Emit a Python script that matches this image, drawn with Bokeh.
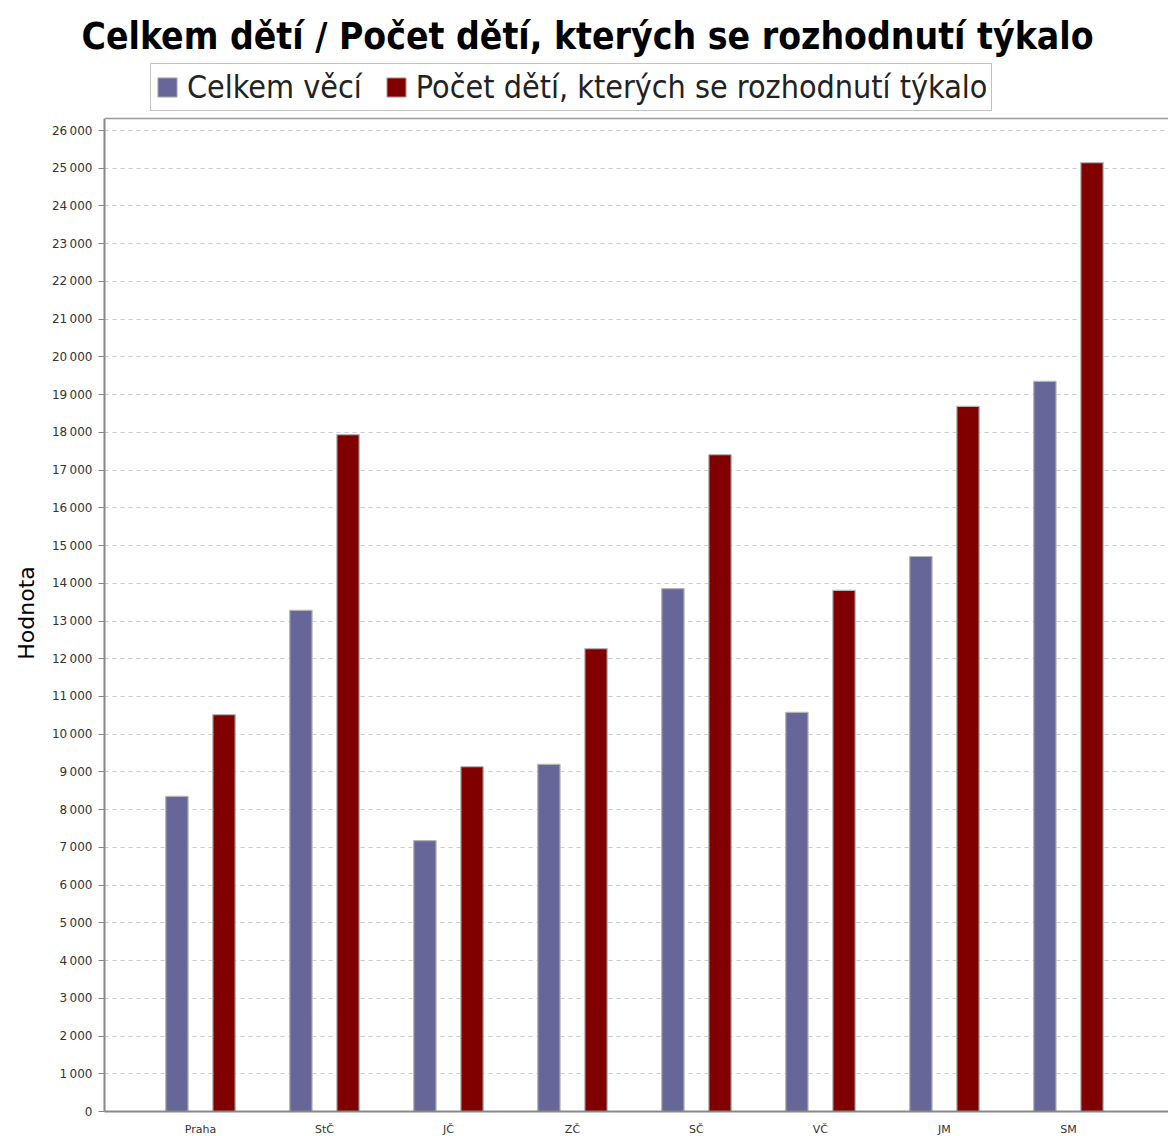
from bokeh.plotting import figure
from bokeh.layouts import column
from bokeh.models import (ColumnDataSource, Range1d, FixedTicker, Legend, LegendItem, Span)
from bokeh.transform import dodge
from bokeh.embed import file_html
from bokeh.resources import INLINE

categories = ["Praha", "StČ", "JČ", "ZČ", "SČ", "VČ", "JM", "SM"]
celkem_veci = [8350, 13280, 7180, 9200, 13860, 10580, 14710, 19350]
pocet_deti = [10520, 17940, 9140, 12270, 17410, 13810, 18690, 25150]
y_ticks = list(range(0, 27000, 1000))
y_tick_labels = ["{:,}".format(t).replace(",", "\u2009") for t in y_ticks]
y_axis_top = 26319

series_names = ["Celkem věcí", "Počet dětí, kterých se rozhodnutí týkalo"]
series_colors = ["#666699", "#800000"]
title_text = "Celkem dětí / Počet dětí, kterých se rozhodnutí týkalo"

src = ColumnDataSource(dict(x=list(range(len(categories))), a=celkem_veci, b=pocet_deti))

# ---------- header: title + legend ----------
head = figure(width=1168, height=114, output_backend="svg", toolbar_location=None,
              x_range=Range1d(-100, -99), y_range=Range1d(-100, -99),
              x_axis_location=None, y_axis_location=None,
              min_border_left=104, min_border_right=0, min_border_top=58, min_border_bottom=0)
head.grid.visible = False
head.outline_line_color = None
h1 = head.vbar(x="x", top="a", width=0.18, source=src,
               fill_color=series_colors[0], line_color="#b4b4b4", line_width=1)
h2 = head.vbar(x="x", top="b", width=0.18, source=src,
               fill_color=series_colors[1], line_color="#b4b4b4", line_width=1)
legend = Legend(items=[LegendItem(label=series_names[0], renderers=[h1]),
                       LegendItem(label=series_names[1], renderers=[h2])],
                orientation="horizontal", location=(46, 3),
                label_text_font="DejaVu Sans Condensed", label_text_font_size="32px",
                label_text_color="#222222",
                glyph_width=24, glyph_height=24, spacing=22, padding=4, margin=0,
                border_line_color="#888888", border_line_width=1.5,
                label_standoff=8, background_fill_alpha=1.0)
head.add_layout(legend)
head.title.text = title_text
head.title.align = "left"
head.title.offset = -23
head.title.text_font = "DejaVu Sans Condensed"
head.title.text_font_size = "37px"
head.title.text_font_style = "bold"
head.title.text_color = "#000000"
head.title.standoff = 2

# ---------- main chart ----------
p = figure(frame_width=1064, frame_height=997, output_backend="svg", toolbar_location=None,
           x_range=Range1d(-0.774, 7.807), y_range=Range1d(0, 26425),
           title_location=None,
           min_border_left=104, min_border_right=0, min_border_top=0, min_border_bottom=0)

p.vbar(x=dodge("x", -0.19, range=p.x_range), top="a", width=0.18, source=src,
       fill_color=series_colors[0], line_color="#b4b4b4", line_width=1.2)
p.vbar(x=dodge("x", 0.19, range=p.x_range), top="b", width=0.18, source=src,
       fill_color=series_colors[1], line_color="#b4b4b4", line_width=1.2)

# top edge of the plot area
p.add_layout(Span(location=y_axis_top, dimension="width", line_color="#999999", line_width=1.5))

p.xaxis.ticker = FixedTicker(ticks=list(range(len(categories))))
p.xaxis.major_label_overrides = {i: c for i, c in enumerate(categories)}
p.xaxis.major_tick_line_color = None
p.xaxis.minor_tick_line_color = None
p.xaxis.major_label_text_font = "DejaVu Sans"
p.xaxis.major_label_text_font_size = "11px"
p.xaxis.major_label_text_color = "#333333"
p.xaxis.major_label_standoff = 5
p.xaxis.axis_line_color = "#888888"
p.xaxis.axis_line_width = 2

p.yaxis.ticker = FixedTicker(ticks=y_ticks)
p.yaxis.major_label_overrides = {t: l for t, l in zip(y_ticks, y_tick_labels)}
p.yaxis.bounds = (0, y_axis_top)
p.yaxis.minor_tick_line_color = None
p.yaxis.major_tick_out = 6
p.yaxis.major_tick_in = 0
p.yaxis.major_tick_line_color = "#888888"
p.yaxis.major_label_text_font = "DejaVu Sans"
p.yaxis.major_label_text_font_size = "12px"
p.yaxis.major_label_text_color = "#333333"
p.yaxis.major_label_standoff = 6
p.yaxis.axis_line_color = "#888888"
p.yaxis.axis_line_width = 2
p.yaxis.axis_label = "Hodnota"
p.yaxis.axis_label_text_font = "DejaVu Sans"
p.yaxis.axis_label_text_font_size = "22px"
p.yaxis.axis_label_text_font_style = "normal"
p.yaxis.axis_label_text_color = "#000000"
p.yaxis.axis_label_standoff = 10

p.xgrid.grid_line_color = None
p.ygrid.grid_line_color = "#cccccc"
p.ygrid.grid_line_dash = "4 4"
p.ygrid.grid_line_width = 1

p.outline_line_color = None
p.background_fill_color = "white"
p.border_fill_color = "white"

layout = column(head, p, spacing=0)
open("out.html", "w").write(file_html(layout, INLINE))
